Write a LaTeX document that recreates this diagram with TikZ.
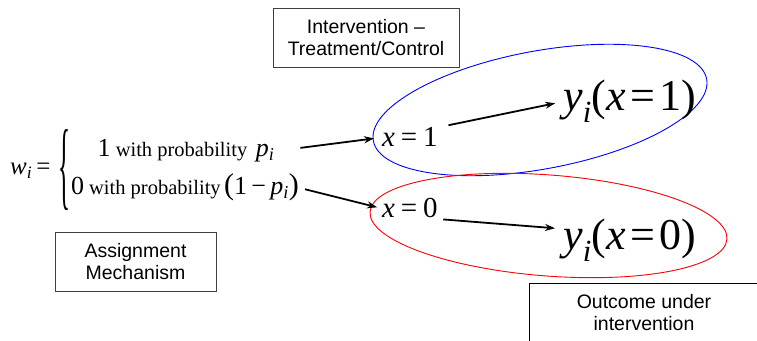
\documentclass[tikz,border=0pt]{standalone}
\usepackage{graphicx}
\usepackage{fontspec}
\setmainfont{Liberation Serif}
\newfontfamily\labelfont{Liberation Sans}
\usetikzlibrary{positioning,shapes.geometric,arrows.meta}

\begin{document}
\begin{tikzpicture}[
        x=1pt, y=1pt,
        labelbox/.style={draw=black!75, line width=0.8pt, align=center, minimum height=59pt, font=\labelfont\fontsize{19.5}{22.5}\selectfont},
        formula/.style={inner sep=0pt, anchor=base west},
        oval/.style={draw, ellipse, line width=0.9pt, inner sep=0pt},
        arr/.style={-{Stealth[length=10pt,width=7pt]}, line width=1.8pt}
    ]
    \clip (0,0) rectangle (757,340);

    % Boxes
    \node[labelbox, minimum width=186pt] (treat) at (366,302.5) {Intervention –\\Treatment/Control};
    \node[labelbox, minimum width=161pt] (assign) at (135.5,78.5) {Assignment\\Mechanism};
    \node[labelbox, draw=black, minimum width=230pt] (outcome) at (644,27.5) {Outcome under\\intervention};

    % Ovals round treatment and control
    \node[oval, draw=blue, minimum width=339pt, minimum height=118pt, rotate=10.5] (treatoval) at (540,230) {};
    \node[oval, draw=red, minimum width=358pt, minimum height=101pt, rotate=-4.4] (ctrloval) at (548.5,114.5) {};

    % Assignment rule
    \node[formula] (wi) at (10,165) {\fontsize{25}{30}\selectfont\textit{w}\textsubscript{\textit{i}}\,=};
    \node[inner sep=0pt] (brace) at (64,170) {\resizebox{12pt}{68pt}{\fontsize{30}{30}\selectfont\{}};
    \node[inner sep=0pt, anchor=base] (probone) at (186,183) {\fontsize{26}{30}\selectfont 1{\fontsize{20.5}{24}\selectfont\ with probability\ \,}\textit{p}\textsubscript{\textit{i}}};
    \node[inner sep=0pt, anchor=base] (probzero) at (185,145) {\fontsize{26}{30}\selectfont 0{\fontsize{20.5}{24}\selectfont\ with probability\,}{\fontsize{30}{30}\selectfont(}1\,−\,\textit{p}\textsubscript{\textit{i}}{\fontsize{30}{30}\selectfont)}};

    % Intervention and outcomes
    \node[formula] (xone) at (382,193) {\fontsize{29}{32}\selectfont\textit{x}\hspace{0.2em}=\hspace{0.2em}1};
    \node[formula] (xzero) at (382,122) {\fontsize{29}{32}\selectfont\textit{x}\hspace{0.2em}=\hspace{0.2em}0};
    \node[formula] (yone) at (563,229) {\fontsize{44}{48}\selectfont\textit{y}\textsubscript{\textit{i}}(\textit{x}\hspace{0.1em}=\hspace{0.1em}1)};
    \node[formula] (yzero) at (563,90) {\fontsize{44}{48}\selectfont\textit{y}\textsubscript{\textit{i}}(\textit{x}\hspace{0.1em}=\hspace{0.1em}0)};

    % Arrows
    \draw[arr, shorten <=26pt, shorten >=8pt] (probone.east) -- (xone.west);
    \draw[arr, shorten <=6pt, shorten >=5pt] (probzero.east) -- (xzero.west);
    \draw[arr, shorten <=12pt, shorten >=8pt] (xone.20) -- (yone.west);
    \draw[arr, shorten <=12pt, shorten >=8pt] (xzero.-25) -- (yzero.170);

\end{tikzpicture}
\end{document}
